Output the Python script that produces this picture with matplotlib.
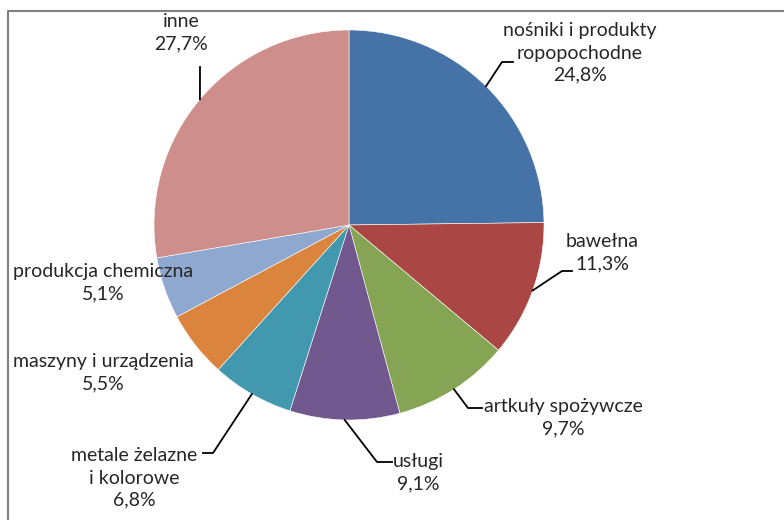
import matplotlib.pyplot as plt
import numpy as np

# struktura importu (%)
etykiety = ['nośniki i produkty\nropopochodne', 'bawełna', 'artkuły spożywcze', 'usługi',
            'metale żelazne\ni kolorowe', 'maszyny i urządzenia', 'produkcja chemiczna', 'inne']
wartosci = [24.8, 11.3, 9.7, 9.1, 6.8, 5.5, 5.1, 27.7]
kolory = ['#4572A7', '#AA4643', '#85A555', '#71588F', '#4198AF', '#DB843D', '#8EA8D0', '#CD8E8C']

# polozenie opisow (piksele, y od gory) i punkty zalaman linii
opisy_xy = [(580, 53), (602, 253), (563, 418), (418, 473), (134, 478), (103, 373), (103, 283), (181, 33)]
linie = [[(502, 62), (513, 62)], [(562, 271), (572, 271)], [(468, 408), (482, 408)],
         [(377, 462), (392, 462)], [(213, 453), (203, 453)], None, None, [(200, 67)]]

W, H = 784, 520
cx, cy, r = 349, 225, 195

plt.rcParams['font.family'] = ['Lato', 'DejaVu Sans']
fig = plt.figure(figsize=(W / 100, H / 100), dpi=100)
ax = fig.add_axes([0, 0, 1, 1])
ax.set_xlim(0, W)
ax.set_ylim(0, H)
ax.set_aspect('equal')
ax.axis('off')

wedges, _ = ax.pie(wartosci, colors=kolory, startangle=90, counterclock=False,
                   center=(cx, H - cy), radius=r,
                   wedgeprops=dict(edgecolor='white', linewidth=0.4))
ax.set_xlim(0, W)
ax.set_ylim(0, H)

for w, lab, val, (tx, ty), pts in zip(wedges, etykiety, wartosci, opisy_xy, linie):
    txt = f'{lab}\n{val:.1f}%'.replace('.', ',')
    ax.text(tx, H - ty, txt, ha='center', va='center', fontsize=14,
            color='#262626', linespacing=1.38)
    if pts:
        ang = np.deg2rad((w.theta1 + w.theta2) / 2)
        x0 = cx + r * np.cos(ang)
        y0 = H - cy + r * np.sin(ang)
        xs = [x0] + [p[0] for p in pts]
        ys = [y0] + [H - p[1] for p in pts]
        ax.plot(xs, ys, color='black', linewidth=1.3)

# ramka
ax.plot([8, 8, W + 5], [-5, H - 11, H - 11], color='#808080', linewidth=1.5)

fig.savefig('out.png', dpi=100)
